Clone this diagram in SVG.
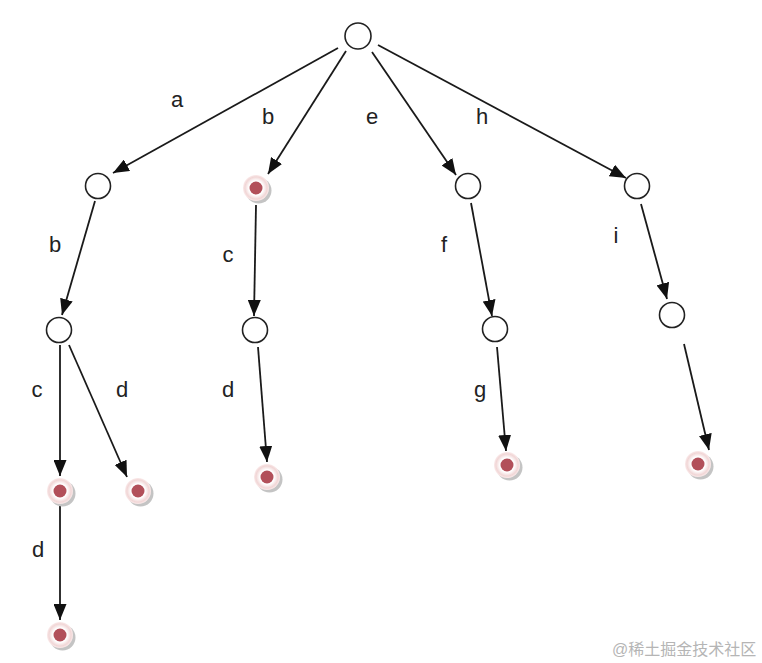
<svg xmlns="http://www.w3.org/2000/svg" width="762" height="663" viewBox="0 0 762 663">
<style>
.edge{stroke:#1a1a1a;stroke-width:1.8;fill:none;marker-end:url(#arr)}
.open{fill:#fff;stroke:#222;stroke-width:1.6}
.lbl{font-family:"Liberation Sans",Arial,sans-serif;font-size:22px;fill:#222;text-anchor:middle}
.wm{font-family:"Liberation Sans","Noto Sans CJK SC",sans-serif;font-size:16px;fill:#b5b5b5}
</style>
<defs>
<marker id="arr" markerWidth="16" markerHeight="13" refX="16" refY="6.5" orient="auto" markerUnits="userSpaceOnUse">
<path d="M0,0 L16,6.5 L0,13 Z" fill="#111"/>
</marker>
<radialGradient id="halo">
<stop offset="0.55" stop-color="#ffffff"/>
<stop offset="0.85" stop-color="#f1d6d6"/>
<stop offset="1" stop-color="#faeaea"/>
</radialGradient>
<g id="fnode">
<circle cx="2.5" cy="2.5" r="13" fill="#c4c4c4"/>
<circle cx="0" cy="0" r="13" fill="url(#halo)"/>
<circle cx="0" cy="0" r="6.5" fill="#b2505a"/>
</g>
</defs>
<rect width="762" height="663" fill="#fff"/>
<g id="edges">
<line class="edge" x1="338" y1="48" x2="113" y2="173"/>
<line class="edge" x1="346" y1="51" x2="268" y2="174"/>
<line class="edge" x1="372" y1="52" x2="456" y2="175"/>
<line class="edge" x1="378" y1="45" x2="626" y2="178"/>
<line class="edge" x1="95" y1="201" x2="62" y2="315"/>
<line class="edge" x1="256" y1="205" x2="254" y2="316"/>
<line class="edge" x1="471" y1="203" x2="492" y2="316"/>
<line class="edge" x1="641" y1="204" x2="667" y2="299"/>
<line class="edge" x1="60" y1="345" x2="60" y2="476"/>
<line class="edge" x1="69" y1="345" x2="127" y2="477"/>
<line class="edge" x1="258" y1="347" x2="267" y2="462"/>
<line class="edge" x1="497" y1="347" x2="506" y2="451"/>
<line class="edge" x1="684" y1="344" x2="709" y2="450"/>
<line class="edge" x1="60" y1="505" x2="60" y2="620"/>
</g>
<g id="labels">
<text class="lbl" x="177" y="107">a</text>
<text class="lbl" x="268" y="124">b</text>
<text class="lbl" x="372" y="124">e</text>
<text class="lbl" x="482" y="124">h</text>
<text class="lbl" x="55" y="252">b</text>
<text class="lbl" x="228" y="262">c</text>
<text class="lbl" x="444" y="252">f</text>
<text class="lbl" x="616" y="243">i</text>
<text class="lbl" x="37" y="397">c</text>
<text class="lbl" x="122" y="397">d</text>
<text class="lbl" x="228" y="397">d</text>
<text class="lbl" x="480" y="397">g</text>
<text class="lbl" x="38" y="557">d</text>
</g>
<g id="n-root"><circle class="open" cx="358" cy="36" r="13"/></g>
<g id="n-a"><circle class="open" cx="98" cy="186" r="12.5"/></g>
<g id="n-b"><use href="#fnode" x="256" y="188"/></g>
<g id="n-e"><circle class="open" cx="468" cy="186" r="12.5"/></g>
<g id="n-h"><circle class="open" cx="637" cy="186" r="12.5"/></g>
<g id="n-ab"><circle class="open" cx="59" cy="330" r="12.5"/></g>
<g id="n-bc"><circle class="open" cx="255" cy="330" r="12.5"/></g>
<g id="n-ef"><circle class="open" cx="495" cy="329" r="12.5"/></g>
<g id="n-hi"><circle class="open" cx="672" cy="315" r="12.5"/></g>
<g id="n-abc"><use href="#fnode" x="60" y="491"/></g>
<g id="n-abd"><use href="#fnode" x="138" y="491"/></g>
<g id="n-bcd"><use href="#fnode" x="267" y="477"/></g>
<g id="n-efg"><use href="#fnode" x="507" y="465"/></g>
<g id="n-hix"><use href="#fnode" x="698" y="464"/></g>
<g id="n-abcd"><use href="#fnode" x="60" y="635"/></g>
<text class="wm" x="612" y="655">@稀土掘金技术社区</text>
</svg>
